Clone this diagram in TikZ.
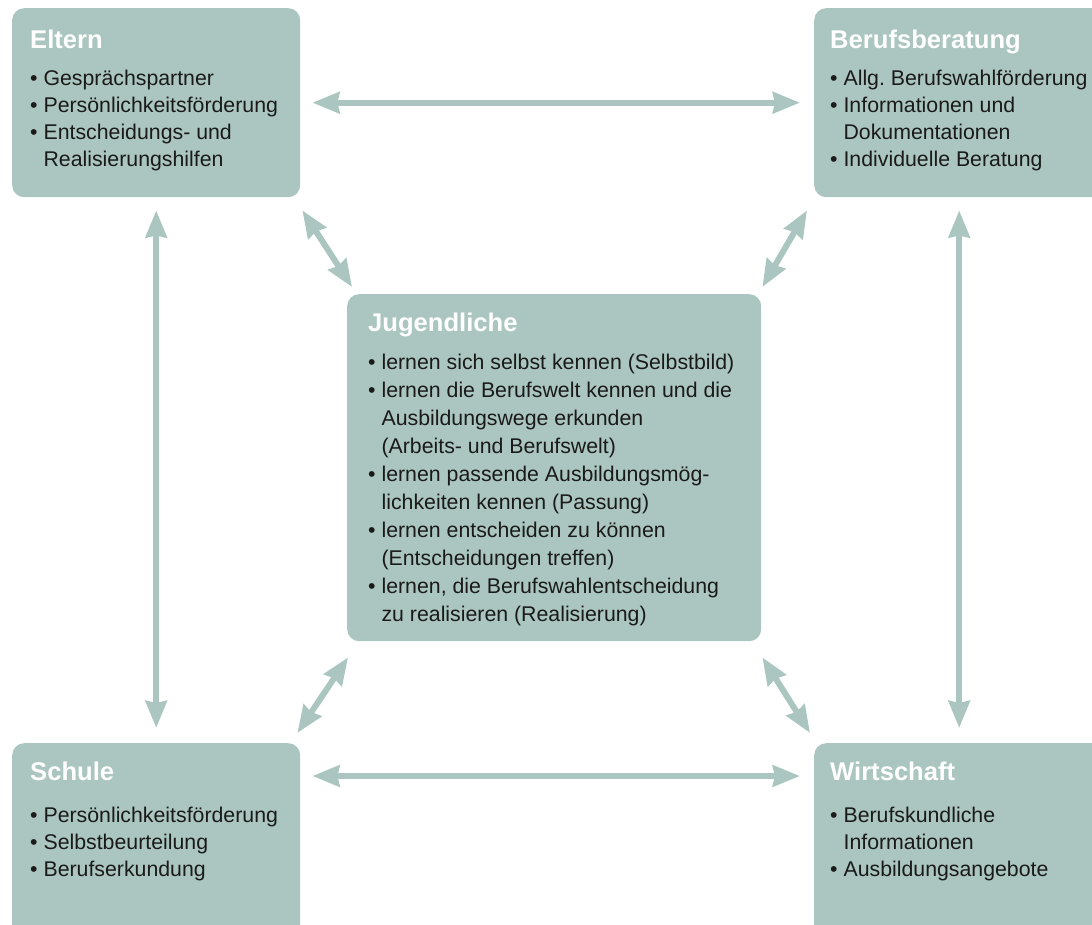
\documentclass[tikz,border=0pt]{standalone}
\usepackage{fontspec}
\setmainfont{Liberation Sans}
\usetikzlibrary{arrows.meta}
\definecolor{graugruen}{RGB}{171,198,192}
\definecolor{schrift}{RGB}{26,26,26}
\newcommand{\punkt}{\textbullet\ }
\newcommand{\einzug}{\phantom{\textbullet\ }}
\frenchspacing

\begin{document}
\begin{tikzpicture}[x=1pt,y=1pt,
    kasten/.style={fill=graugruen,rounded corners=12pt,inner sep=0pt,anchor=north west},
    titel/.style={anchor=base west,inner sep=0pt,text=white,font=\fontsize{25.6}{30}\selectfont\bfseries},
    liste/.style={anchor=north west,inner sep=0pt,align=left,text=schrift,font=\fontsize{21.3}{27}\selectfont},
    pfeil/.style={graugruen,line width=6pt,{Stealth[length=27pt,width=21pt,inset=2pt]}-{Stealth[length=27pt,width=21pt,inset=2pt]}}]
				\clip (0,0) rectangle (1092,-925);

				% Kaesten
				\node[kasten,minimum width=288,minimum height=189] (eltern) at (12,-8) {};
				\node[kasten,minimum width=290,minimum height=189] (beratung) at (814,-8) {};
				\node[kasten,minimum width=414,minimum height=347] (jugend) at (347,-294) {};
				\node[kasten,minimum width=288,minimum height=200] (schule) at (12,-743) {};
				\node[kasten,minimum width=290,minimum height=200] (wirtschaft) at (814,-743) {};

				% Titel
				\node[titel] (elternT) at (30,-49) {Eltern};
				\node[titel] (beratungT) at (830,-49) {Berufsberatung};
				\node[titel] (jugendT) at (368,-331) {Jugendliche};
				\node[titel] (schuleT) at (30,-780) {Schule};
				\node[titel] (wirtschaftT) at (830,-780) {Wirtschaft};

				% Listen
				\node[liste] (elternL) at (30,-70) {\punkt Gesprächspartner\\ \punkt Persönlichkeitsförderung\\ \punkt Entscheidungs- und\\ \einzug Realisierungshilfen};
				\node[liste] (beratungL) at (830,-70) {\punkt Allg. Berufswahlförderung\\ \punkt Informationen und\\ \einzug Dokumentationen\\ \punkt Individuelle Beratung};
				\node[liste,font=\fontsize{21.3}{28}\selectfont] (jugendL) at (368,-354) {\punkt lernen sich selbst kennen (Selbstbild)\\ \punkt lernen die Berufswelt kennen und die\\ \einzug Ausbildungswege erkunden\\ \einzug (Arbeits- und Berufswelt)\\ \punkt lernen passende Ausbildungsmög-\\ \einzug lichkeiten kennen (Passung)\\ \punkt lernen entscheiden zu können\\ \einzug (Entscheidungen treffen)\\ \punkt lernen, die Berufswahlentscheidung\\ \einzug zu realisieren (Realisierung)};
				\node[liste] (schuleL) at (30,-807) {\punkt Persönlichkeitsförderung\\ \punkt Selbstbeurteilung\\ \punkt Berufserkundung};
				\node[liste] (wirtschaftL) at (830,-807) {\punkt Berufskundliche\\ \einzug Informationen\\ \punkt Ausbildungsangebote};

				% Pfeile
				\draw[pfeil] ([xshift=12]eltern.east) -- ([xshift=-14]beratung.west);
				\draw[pfeil] ([shift={(12,-33)}]schule.north east) -- ([shift={(-14,-33)}]wirtschaft.north west);
				\draw[pfeil] ([yshift=-13]eltern.south) -- ([yshift=15]schule.north);
				\draw[pfeil] ([yshift=-13]beratung.south) -- ([yshift=15]wirtschaft.north);
				\draw[pfeil] ([shift={(2,-13)}]eltern.south east) -- ([shift={(5,7)}]jugend.north west);
				\draw[pfeil] ([shift={(-7,-13)}]beratung.south west) -- ([shift={(1,7)}]jugend.north east);
				\draw[pfeil] ([shift={(1,-16)}]jugend.south west) -- ([shift={(-3,10)}]schule.north east);
				\draw[pfeil] ([shift={(1,-16)}]jugend.south east) -- ([shift={(-4,10)}]wirtschaft.north west);
			\end{tikzpicture}
\end{document}
